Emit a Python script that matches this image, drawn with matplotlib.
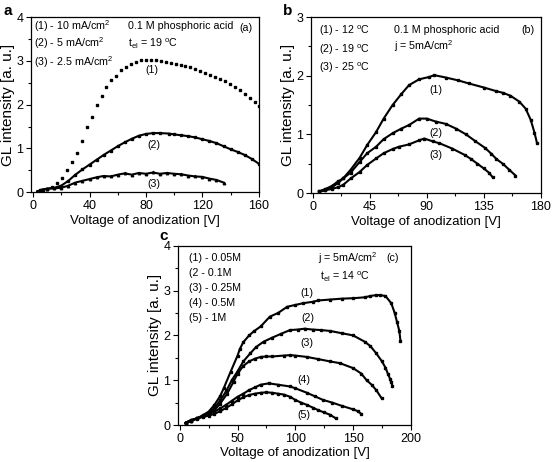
import numpy as np
import matplotlib
matplotlib.use("Agg")
import matplotlib.pyplot as plt
from matplotlib.ticker import MultipleLocator

plt.rcParams['font.family'] = ['Liberation Sans', 'DejaVu Sans']
plt.rcParams['mathtext.fontset'] = 'custom'
plt.rcParams['mathtext.rm'] = 'Liberation Sans'
plt.rcParams['mathtext.it'] = 'Liberation Sans'

# ---- panel (a): current density, 0.1 M phosphoric acid, 19 C
a1_v = [6.5, 10, 13.5, 17, 20.5, 24, 27.5, 31, 34.5, 38, 41.5, 45, 48.5, 52, 55.5, 59, 62.5, 66,
        69.5, 73, 76.5, 80, 83.5, 87, 90.5, 94, 97.5, 101, 104.5, 108, 111.5, 115, 118.5, 122,
        125.5, 129, 132.5, 136, 139.5, 143, 146.5, 150, 153.5, 157, 160]
a1_y = [0.05, 0.08, 0.12, 0.2, 0.32, 0.5, 0.68, 0.9, 1.18, 1.5, 1.72, 2.0, 2.2, 2.4, 2.57, 2.66,
        2.78, 2.87, 2.93, 2.98, 3.01, 3.03, 3.03, 3.01, 2.99, 2.97, 2.95, 2.93, 2.9, 2.88, 2.85,
        2.81, 2.77, 2.72, 2.68, 2.63, 2.58, 2.53, 2.47, 2.4, 2.33, 2.25, 2.16, 2.06, 1.96]
a2_v = [5, 10, 15, 20, 25, 30, 35, 40, 45, 50, 55, 60, 65, 70, 75, 80, 85, 90, 96, 100, 105, 110,
        115, 120, 125, 130, 135, 140, 145, 150, 155, 160]
a2_y = [0.05, 0.08, 0.1, 0.15, 0.26, 0.4, 0.52, 0.63, 0.74, 0.85, 0.95, 1.05, 1.14, 1.22, 1.29,
        1.33, 1.35, 1.35, 1.34, 1.32, 1.3, 1.28, 1.25, 1.21, 1.17, 1.12, 1.05, 0.98, 0.92, 0.85,
        0.76, 0.65]
a3_v = [3, 7, 10, 15, 20, 25, 30, 35, 40, 45, 50, 55, 60, 65, 70, 75, 80, 85, 90, 95, 100, 105,
        110, 115, 120, 125, 130, 135]
a3_y = [0.02, 0.06, 0.08, 0.09, 0.1, 0.15, 0.22, 0.26, 0.3, 0.34, 0.37, 0.36, 0.4, 0.43, 0.4,
        0.44, 0.42, 0.45, 0.42, 0.44, 0.42, 0.41, 0.38, 0.36, 0.35, 0.31, 0.28, 0.22]

# ---- panel (b): temperature, j = 5 mA/cm2
b1_v = [5, 10, 15, 20, 24, 30, 37, 43, 50, 56, 63, 70, 76, 84, 92, 96, 105, 115, 123, 135, 144.5,
        150, 156, 163, 168, 172, 175, 177]
b1_y = [0.03, 0.07, 0.12, 0.2, 0.25, 0.4, 0.6, 0.82, 1.04, 1.27, 1.5, 1.69, 1.84, 1.94, 1.98, 2.01,
        1.97, 1.92, 1.87, 1.8, 1.74, 1.71, 1.66, 1.56, 1.44, 1.25, 1.03, 0.85]
b2_v = [5, 10, 15, 20, 24, 30, 37, 43, 50, 56, 63, 70, 76, 84, 90, 97, 105, 113, 121, 128, 136,
        141, 145, 150, 155, 160]
b2_y = [0.03, 0.05, 0.1, 0.17, 0.25, 0.35, 0.53, 0.68, 0.79, 0.92, 1.02, 1.1, 1.16, 1.27, 1.27,
        1.22, 1.18, 1.1, 1.0, 0.89, 0.77, 0.67, 0.58, 0.5, 0.4, 0.3]
b3_v = [5, 10, 15, 20, 24, 30, 37, 43, 50, 56, 63, 68, 76, 84, 88, 95, 100, 110, 120, 125, 130,
        135, 139, 142]
b3_y = [0.02, 0.05, 0.07, 0.1, 0.14, 0.25, 0.36, 0.48, 0.59, 0.68, 0.75, 0.79, 0.83, 0.9, 0.93,
        0.88, 0.85, 0.76, 0.65, 0.58, 0.5, 0.42, 0.35, 0.27]

# ---- panel (c): acid concentration, j = 5 mA/cm2, 14 C
c1_v = [5, 10, 15, 20, 25, 30, 35, 38, 44, 50, 52, 55, 60, 64, 70, 78, 85, 93, 100, 107, 115, 120,
        130, 140, 150, 160, 165, 170, 173, 178, 183, 186, 188, 190, 191]
c1_y = [0.05, 0.1, 0.15, 0.22, 0.3, 0.45, 0.65, 0.82, 1.19, 1.55, 1.7, 1.85, 2.0, 2.09, 2.2, 2.42,
        2.5, 2.64, 2.68, 2.72, 2.75, 2.78, 2.8, 2.82, 2.83, 2.85, 2.88, 2.9, 2.9, 2.88, 2.72, 2.5,
        2.3, 2.1, 1.88]
c2_v = [5, 10, 15, 20, 25, 30, 35, 40, 45, 50, 55, 61, 66, 72.5, 80, 88, 95.5, 102, 108, 115, 122,
        130, 140, 150, 160, 165, 170, 175, 178, 180, 182, 183, 184]
c2_y = [0.05, 0.1, 0.15, 0.2, 0.27, 0.38, 0.55, 0.75, 1.0, 1.2, 1.42, 1.6, 1.74, 1.86, 1.95, 2.04,
        2.12, 2.13, 2.15, 2.13, 2.12, 2.1, 2.05, 2.0, 1.86, 1.76, 1.6, 1.42, 1.28, 1.15, 1.03,
        0.95, 0.88]
c3_v = [5, 10, 15, 20, 25, 30, 35, 41, 46.6, 50, 55, 60, 65, 70, 75, 80, 90, 95.5, 100, 110, 120,
        130, 138.7, 150, 157, 161.7, 166, 170, 174.6]
c3_y = [0.05, 0.1, 0.15, 0.2, 0.26, 0.33, 0.48, 0.7, 0.97, 1.15, 1.32, 1.42, 1.48, 1.52, 1.53,
        1.53, 1.55, 1.56, 1.55, 1.52, 1.47, 1.42, 1.38, 1.27, 1.15, 1.0, 0.9, 0.78, 0.6]
c4_v = [5, 10, 15, 20, 25, 30, 35, 40, 45, 50, 55, 60, 65, 70, 77, 85, 95.5, 100, 110, 117, 124,
        132, 140, 150, 154, 157]
c4_y = [0.05, 0.1, 0.14, 0.2, 0.25, 0.3, 0.37, 0.45, 0.54, 0.63, 0.7, 0.78, 0.84, 0.9, 0.93, 0.9,
        0.86, 0.82, 0.72, 0.64, 0.56, 0.5, 0.43, 0.35, 0.31, 0.25]
c5_v = [5, 10, 15, 20, 25, 30, 35, 40, 45, 50, 55, 60, 65, 70, 75, 80, 85, 90, 95.5, 100, 105,
        110, 115, 120, 125, 130, 135]
c5_y = [0.05, 0.12, 0.15, 0.18, 0.21, 0.25, 0.31, 0.38, 0.46, 0.55, 0.62, 0.67, 0.7, 0.72, 0.73,
        0.72, 0.7, 0.68, 0.63, 0.56, 0.5, 0.45, 0.39, 0.33, 0.28, 0.23, 0.15]

xlabel = 'Voltage of anodization [V]'
ylabel = 'GL intensity [a. u.]'

fig = plt.figure(figsize=(5.53, 4.62), dpi=100)
ax_a = fig.add_axes([0.056, 0.584, 0.412, 0.379])
ax_b = fig.add_axes([0.562, 0.582, 0.416, 0.381])
ax_c = fig.add_axes([0.322, 0.080, 0.421, 0.388])


def dense(ax, v, y):
    ax.plot(v, y, '-', color='black', lw=1.5, marker='s', ms=1.6)


def setup(ax, xmax, xmaj, ymax):
    ax.set_xlim(-1.5, xmax)
    ax.set_ylim(0, ymax)
    ax.xaxis.set_major_locator(MultipleLocator(xmaj))
    ax.xaxis.set_minor_locator(MultipleLocator(xmaj / 2))
    ax.yaxis.set_major_locator(MultipleLocator(1))
    ax.yaxis.set_minor_locator(MultipleLocator(0.5))
    ax.tick_params(which='major', length=3.5, width=0.8, labelsize=9, pad=2)
    ax.tick_params(which='minor', length=2, width=0.8)
    for s in ax.spines.values():
        s.set_linewidth(0.9)
    ax.set_xlabel(xlabel, fontsize=9.5, labelpad=2)
    ax.set_ylabel(ylabel, fontsize=11, labelpad=1)


fs = 7.7

# panel a
ax_a.plot(a1_v, a1_y, 's', color='black', ms=2)
dense(ax_a, a2_v, a2_y)
ax_a.plot(a3_v, a3_y, '-', color='black', lw=1.5, marker='^', ms=1.8)
setup(ax_a, 160, 40, 4)
ax_a.text(0.5, 3.79, '(1) - 10 mA/cm$^2$', fontsize=fs, va='center')
ax_a.text(0.5, 3.41, '(2) - 5 mA/cm$^2$', fontsize=fs, va='center')
ax_a.text(0.5, 2.97, '(3) - 2.5 mA/cm$^2$', fontsize=fs, va='center')
ax_a.text(67.5, 3.79, '0.1 M phosphoric acid', fontsize=fs, va='center')
ax_a.text(146, 3.76, '(a)', fontsize=fs, va='center')
ax_a.text(67.5, 3.39, 't$_{\\rm el}$ = 19 $^{\\rm o}$C', fontsize=fs, va='center')
ax_a.text(84, 2.78, '(1)', fontsize=fs, ha='center', va='center')
ax_a.text(85.6, 1.07, '(2)', fontsize=fs, ha='center', va='center')
ax_a.text(85.6, 0.19, '(3)', fontsize=fs, ha='center', va='center')

# panel b
dense(ax_b, b1_v, b1_y)
dense(ax_b, b2_v, b2_y)
dense(ax_b, b3_v, b3_y)
setup(ax_b, 180, 45, 3)
ax_b.text(5.3, 2.76, '(1) - 12 $^{\\rm o}$C', fontsize=fs, va='center')
ax_b.text(5.3, 2.44, '(2) - 19 $^{\\rm o}$C', fontsize=fs, va='center')
ax_b.text(5.3, 2.14, '(3) - 25 $^{\\rm o}$C', fontsize=fs, va='center')
ax_b.text(63.8, 2.78, '0.1 M phosphoric acid', fontsize=fs, va='center')
ax_b.text(170, 2.78, '(b)', fontsize=fs, ha='center', va='center')
ax_b.text(63.8, 2.5, 'j = 5mA/cm$^2$', fontsize=fs, va='center')
ax_b.text(97, 1.76, '(1)', fontsize=fs, ha='center', va='center')
ax_b.text(97, 1.02, '(2)', fontsize=fs, ha='center', va='center')
ax_b.text(97, 0.65, '(3)', fontsize=fs, ha='center', va='center')

# panel c
for v, y in [(c1_v, c1_y), (c2_v, c2_y), (c3_v, c3_y), (c4_v, c4_y), (c5_v, c5_y)]:
    dense(ax_c, v, y)
setup(ax_c, 200, 50, 4)
c_lab = ['(1) - 0.05M', '(2 - 0.1M', '(3) - 0.25M', '(4) - 0.5M', '(5) - 1M']
c_y = [3.73, 3.39, 3.06, 2.72, 2.38]
for t, yy in zip(c_lab, c_y):
    ax_c.text(7.6, yy, t, fontsize=fs, va='center')
ax_c.text(120, 3.73, 'j = 5mA/cm$^2$', fontsize=fs, va='center')
ax_c.text(184, 3.73, '(c)', fontsize=fs, ha='center', va='center')
ax_c.text(121, 3.3, 't$_{\\rm el}$ = 14 $^{\\rm o}$C', fontsize=fs, va='center')
for t, xx, yy in [('(1)', 110, 2.95), ('(2)', 111, 2.38), ('(3)', 110, 1.83),
                  ('(4)', 107, 1.0), ('(5)', 107, 0.22)]:
    ax_c.text(xx, yy, t, fontsize=fs, ha='center', va='center')

fig.text(4 / 553, 1 - 11 / 462, 'a', fontsize=11, fontweight='bold', va='center')
fig.text(283 / 553, 1 - 11 / 462, 'b', fontsize=11, fontweight='bold', va='center')
fig.text(159 / 553, 1 - 236 / 462, 'c', fontsize=11, fontweight='bold', va='center')

fig.savefig('out.png', dpi=100)
